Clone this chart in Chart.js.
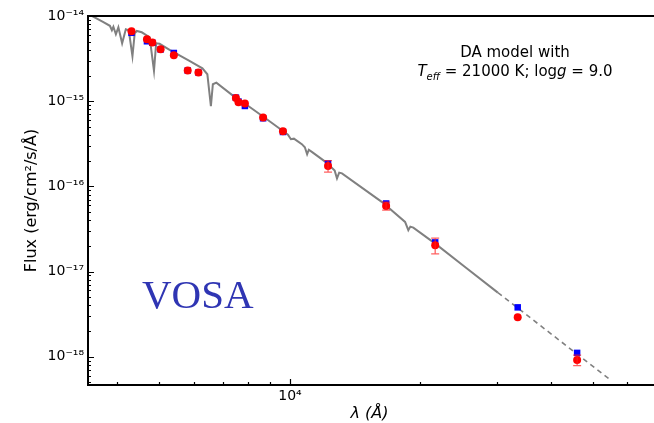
<!DOCTYPE html>
<html>
<head>
<meta charset="utf-8">
<script src="https://cdn.jsdelivr.net/npm/chart.js@4/dist/chart.umd.min.js"></script>
<style>
  html, body { margin: 0; padding: 0; background: #fff; }
  #wrap { width: 654px; height: 423px; }
</style>
</head>
<body>
<div id="wrap"><canvas id="sed" width="654" height="423"></canvas></div>
<script>
// DA model spectrum (Angstrom, erg/cm2/s/A)
const modelWave = [3387, 3706, 3845, 3886, 3917, 3969, 4022, 4103, 4184, 4250, 4334, 4387, 4435, 4553, 4749, 4859, 4915, 5006, 5279, 5865, 6284, 6451, 6573, 6642, 6766, 7375, 7914, 8798, 9775, 9895, 10053, 10213, 10654, 10824, 10956, 11055, 11233, 12077, 12682, 12838, 12989, 13183, 16280, 18429, 18750, 18950, 19254, 21590, 25293, 30158];
const modelFlux = [1.09e-14, 8.55e-15, 7.67e-15, 6.80e-15, 7.47e-15, 6.10e-15, 7.37e-15, 4.78e-15, 6.98e-15, 6.80e-15, 3.37e-15, 6.27e-15, 6.67e-15, 6.44e-15, 5.63e-15, 2.28e-15, 4.78e-15, 4.72e-15, 4.01e-15, 2.98e-15, 2.43e-15, 2.07e-15, 8.72e-16, 1.58e-15, 1.65e-15, 1.17e-15, 9.21e-16, 6.26e-16, 4.24e-16, 4.04e-16, 3.58e-16, 3.63e-16, 3.13e-16, 2.88e-16, 2.38e-16, 2.69e-16, 2.54e-16, 1.94e-16, 1.53e-16, 1.24e-16, 1.45e-16, 1.42e-16, 6.58e-17, 3.83e-17, 3.06e-17, 3.37e-17, 3.28e-17, 2.14e-17, 1.14e-17, 5.66e-18];

// Rayleigh-Jeans tail
const tailWave = [30158, 55060];
const tailFlux = [5.66e-18, 5.26e-19];

// photometry: observed (red) and synthetic from the model (blue)
const photWave = [4312, 4681, 4817, 5033, 5399, 5812, 6152, 7506, 7610, 7873, 8672, 9637, 12242, 16665, 21623, 33510, 45940];
const obsFlux  = [6.61e-15, 5.33e-15, 4.88e-15, 4.07e-15, 3.46e-15, 2.29e-15, 2.17e-15, 1.09e-15, 9.72e-16, 9.38e-16, 6.43e-16, 4.44e-16, 1.74e-16, 5.90e-17, 2.04e-17, 2.90e-18, 9.15e-19];
const obsErr   = [8e-17, 6e-17, 5e-17, 4e-17, 4e-17, 3e-17, 3e-17, 1.5e-17, 1.5e-17, 1.5e-17, 1e-17, 8e-18, 2.7e-17, 6.5e-18, 4.3e-18, 5e-20, 1.3e-19];
const synFlux  = [6.35e-15, 5.05e-15, 4.85e-15, 4.05e-15, 3.68e-15, 2.29e-15, 2.17e-15, 1.10e-15, 9.9e-16, 8.79e-16, 6.3e-16, 4.35e-16, 1.86e-16, 6.30e-17, 2.20e-17, 3.80e-18, 1.11e-18];

// axes
const xRange = [3423, 68000];
const yRange = [4.66e-19, 1e-14];
const xLabelExps = [4];
const yLabelExps = [-18, -17, -16, -15, -14];

const SUP = {'-': '\u207B', '0': '\u2070', '1': '\u00B9', '2': '\u00B2', '3': '\u00B3', '4': '\u2074', '5': '\u2075', '6': '\u2076', '7': '\u2077', '8': '\u2078', '9': '\u2079'};

function powLabel(value, exps) {
  const e = Math.round(Math.log10(value));
  if (Math.abs(Math.log10(value) - e) > 1e-6 || !exps.includes(e)) return '';
  return '10' + String(e).split('').map(c => SUP[c]).join('');
}

function pts(xs, ys) {
  return xs.map((x, i) => ({x: x, y: ys[i]}));
}

const FONT = "'DejaVu Sans', sans-serif";

// frame, inward ticks, error bars and text
const decor = {
  id: 'decor',
  afterDatasetsDraw(chart) {
    const {ctx, scales: {x, y}} = chart;
    ctx.save();
    ctx.strokeStyle = 'rgba(255, 30, 30, 0.7)';
    ctx.lineWidth = 1.3;
    photWave.forEach((w, i) => {
      const px = x.getPixelForValue(w);
      const top = y.getPixelForValue(obsFlux[i] + obsErr[i]);
      const bot = y.getPixelForValue(obsFlux[i] - obsErr[i]);
      if (bot - top < 6) return;
      ctx.beginPath();
      ctx.moveTo(px, top); ctx.lineTo(px, bot);
      ctx.moveTo(px - 4, top); ctx.lineTo(px + 4, top);
      ctx.moveTo(px - 4, bot); ctx.lineTo(px + 4, bot);
      ctx.stroke();
    });
    ctx.restore();
  },
  afterDraw(chart) {
    const {ctx, chartArea: a, scales: {x, y}} = chart;
    ctx.save();
    ctx.strokeStyle = '#000';

    // ticks pointing into the plot
    ctx.lineWidth = 1.2;
    ctx.beginPath();
    for (let e = -19; e <= -14; e++) {
      for (let k = 1; k <= 9; k++) {
        const v = k * Math.pow(10, e);
        if (v < yRange[0] || v > yRange[1] * 1.0001) continue;
        const py = Math.round(y.getPixelForValue(v)) + 0.5;
        ctx.moveTo(a.left, py);
        ctx.lineTo(a.left + (k === 1 ? 6 : 3), py);
      }
    }
    for (let e = 3; e <= 4; e++) {
      for (let k = 1; k <= 9; k++) {
        const v = k * Math.pow(10, e);
        if (v < xRange[0] || v > xRange[1]) continue;
        const px = Math.round(x.getPixelForValue(v)) + 0.5;
        ctx.moveTo(px, a.bottom);
        ctx.lineTo(px, a.bottom - (k === 1 ? 6 : 3));
      }
    }
    ctx.stroke();

    // axis frame (left, bottom, top)
    ctx.lineWidth = 2;
    ctx.beginPath();
    ctx.moveTo(chart.width, a.top);
    ctx.lineTo(a.left, a.top);
    ctx.lineTo(a.left, a.bottom);
    ctx.lineTo(chart.width, a.bottom);
    ctx.stroke();

    // model note
    ctx.fillStyle = '#000';
    ctx.textBaseline = 'alphabetic';
    ctx.textAlign = 'center';
    ctx.font = '15px ' + FONT;
    ctx.fillText('DA model with', 515, 57);

    const parts = [
      {t: 'T', f: 'italic 15px ' + FONT, dy: 0},
      {t: 'eff', f: 'italic 10px ' + FONT, dy: 4},
      {t: ' = 21000 K; log', f: '15px ' + FONT, dy: 0},
      {t: 'g', f: 'italic 15px ' + FONT, dy: 0},
      {t: ' = 9.0', f: '15px ' + FONT, dy: 0}
    ];
    ctx.textAlign = 'left';
    let total = 0;
    parts.forEach(p => { ctx.font = p.f; p.w = ctx.measureText(p.t).width; total += p.w; });
    let cx = 515 - total / 2;
    parts.forEach(p => { ctx.font = p.f; ctx.fillText(p.t, cx, 76 + p.dy); cx += p.w; });

    // service logo
    ctx.fillStyle = '#2f35b3';
    ctx.font = "41px 'Liberation Serif', 'Times New Roman', serif";
    ctx.fillText('VOSA', 142, 308);
    ctx.restore();
  }
};

new Chart(document.getElementById('sed'), {
  type: 'scatter',
  data: {
    datasets: [
      {
        label: 'Observed',
        data: pts(photWave, obsFlux),
        pointStyle: 'circle',
        pointRadius: 4,
        backgroundColor: '#ff0000',
        borderColor: '#ff0000',
        borderWidth: 0
      },
      {
        label: 'Model photometry',
        data: pts(photWave, synFlux),
        pointStyle: 'rect',
        pointRadius: 4.6,
        backgroundColor: '#0000ff',
        borderColor: '#0000ff',
        borderWidth: 0
      },
      {
        label: 'Model',
        data: pts(modelWave, modelFlux),
        showLine: true,
        pointRadius: 0,
        borderColor: '#808080',
        borderWidth: 2,
        tension: 0
      },
      {
        label: 'Rayleigh-Jeans',
        data: pts(tailWave, tailFlux),
        showLine: true,
        pointRadius: 0,
        borderColor: '#808080',
        borderWidth: 1.6,
        borderDash: [5, 4]
      }
    ]
  },
  options: {
    responsive: false,
    devicePixelRatio: 1,
    animation: false,
    layout: { autoPadding: false, padding: { top: 16, right: 0, bottom: 0, left: 0 } },
    plugins: {
      legend: { display: false },
      tooltip: { enabled: false }
    },
    scales: {
      x: {
        type: 'logarithmic',
        min: xRange[0],
        max: xRange[1],
        grid: { display: false, drawTicks: false },
        border: { display: false },
        afterFit: s => { s.height = 38; },
        ticks: {
          autoSkip: false,
          maxRotation: 0,
          padding: 3,
          color: '#000',
          font: { family: FONT, size: 14 },
          callback: v => powLabel(v, xLabelExps)
        },
        title: {
          display: true,
          text: 'λ (Å)',
          color: '#000',
          font: { family: FONT, size: 16, style: 'italic' },
          padding: { top: 0, bottom: 0 }
        }
      },
      y: {
        type: 'logarithmic',
        min: yRange[0],
        max: yRange[1],
        grid: { display: false, drawTicks: false },
        border: { display: false },
        afterFit: s => { s.width = 88; },
        ticks: {
          autoSkip: false,
          padding: 4,
          color: '#000',
          font: { family: FONT, size: 14 },
          callback: v => powLabel(v, yLabelExps)
        },
        title: {
          display: true,
          text: 'Flux (erg/cm²/s/Å)',
          color: '#000',
          font: { family: FONT, size: 16 },
          padding: { top: 22, bottom: 0 }
        }
      }
    }
  },
  plugins: [decor]
});
</script>
</body>
</html>
